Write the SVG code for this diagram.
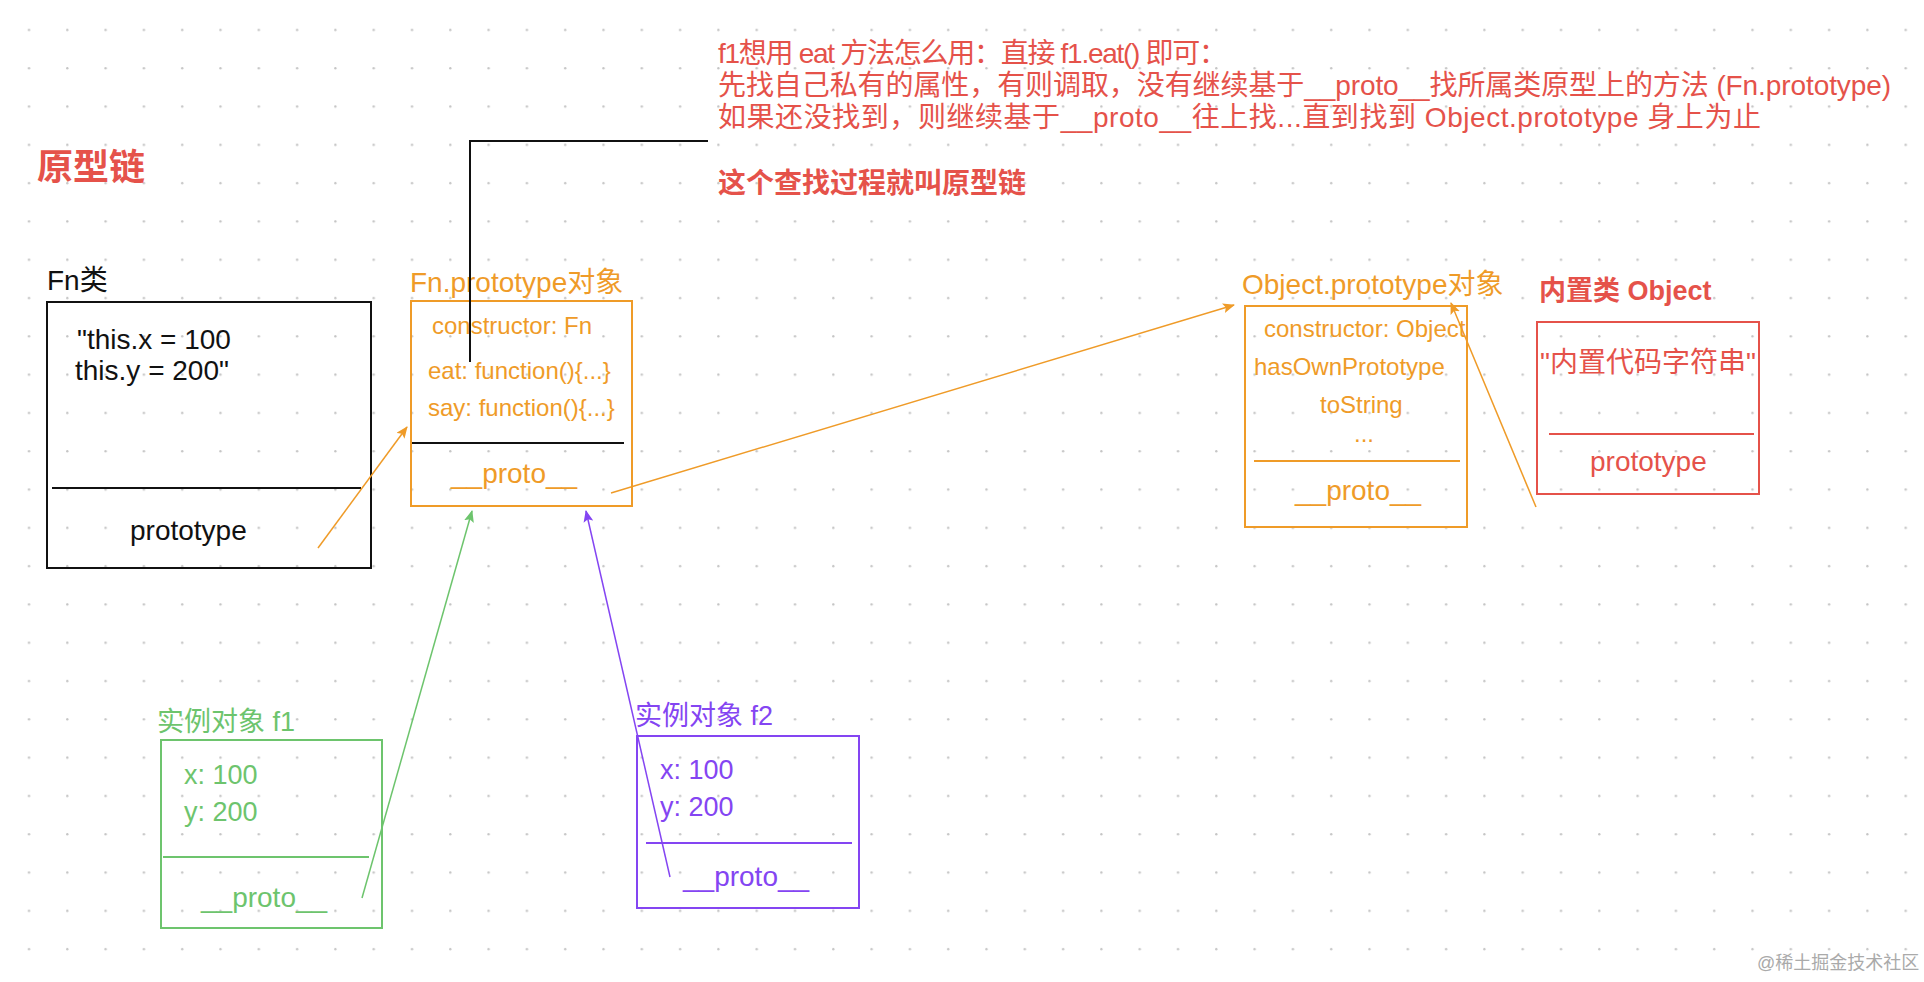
<svg xmlns="http://www.w3.org/2000/svg" width="1924" height="982" viewBox="0 0 1924 982">
<style>
text{font-family:"Liberation Sans","Noto Sans CJK SC",sans-serif;}
.t28{font-size:28px;}
.t27{font-size:27px;}
.t24{font-size:24px;}
.org{fill:#ef9b28;}
.red{fill:#e5524a;}
.grn{fill:#6dc46d;}
.pur{fill:#8445f2;}
.blk{fill:#111;}
.box{fill:none;stroke-width:2;}
.div{stroke-width:2;}
.con{fill:none;stroke-width:1.5;}
</style>
<defs>
<pattern id="dots" x="27.7" y="28.7" width="38.3" height="38.3" patternUnits="userSpaceOnUse">
<circle cx="1.3" cy="1.3" r="1.2" fill="#c4c4c4"/>
</pattern>
<marker id="aO" viewBox="0 0 12 10" refX="11" refY="5" markerWidth="12" markerHeight="10" markerUnits="userSpaceOnUse" orient="auto"><path d="M0,0 L12,5 L0,10 L2.5,5 z" fill="#ef9b28"/></marker>
<marker id="aG" viewBox="0 0 12 10" refX="11" refY="5" markerWidth="12" markerHeight="10" markerUnits="userSpaceOnUse" orient="auto"><path d="M0,0 L12,5 L0,10 L2.5,5 z" fill="#6dc46d"/></marker>
<marker id="aP" viewBox="0 0 12 10" refX="11" refY="5" markerWidth="12" markerHeight="10" markerUnits="userSpaceOnUse" orient="auto"><path d="M0,0 L12,5 L0,10 L2.5,5 z" fill="#8445f2"/></marker>
</defs>
<rect width="1924" height="982" fill="#fff"/>
<rect width="1924" height="982" fill="url(#dots)"/>

<g id="title">
<text x="37" y="180" class="red" style="font-size:36px;font-weight:bold">原型链</text>
</g>

<g id="note">
<text x="718" y="63" class="red t28" textLength="509" lengthAdjust="spacing">f1想用 eat 方法怎么用：直接 f1.eat() 即可：</text>
<text x="718" y="95" class="red t28" textLength="1173" lengthAdjust="spacing">先找自己私有的属性，有则调取，没有继续基于__proto__找所属类原型上的方法 (Fn.prototype)</text>
<text x="718" y="127" class="red t28" textLength="1043" lengthAdjust="spacing">如果还没找到，则继续基于__proto__往上找...直到找到 Object.prototype 身上为止</text>
<text x="718" y="193" class="red" style="font-size:28px;font-weight:bold">这个查找过程就叫原型链</text>
</g>

<g id="fn-class">
<text x="47" y="290" class="blk t28">Fn类</text>
<rect x="47" y="302" width="324" height="266" class="box" stroke="#111"/>
<text x="77" y="349" class="blk t28">"this.x = 100</text>
<text x="75" y="380" class="blk t28">this.y = 200"</text>
<line x1="52" y1="488" x2="361" y2="488" class="div" stroke="#111"/>
<text x="130" y="540" class="blk t28">prototype</text>
</g>

<g id="fn-prototype">
<text x="410" y="292" class="org t28">Fn.prototype对象</text>
<rect x="411" y="301" width="221" height="205" class="box" stroke="#ef9b28"/>
<text x="432" y="334" class="org t24">constructor: Fn</text>
<text x="428" y="379" class="org t24">eat: function(){...}</text>
<text x="428" y="416" class="org t24">say: function(){...}</text>
<line x1="412" y1="443" x2="624" y2="443" class="div" stroke="#111"/>
<text x="451" y="483" class="org t28">__proto__</text>
</g>

<g id="object-prototype">
<text x="1242" y="294" class="org t28">Object.prototype对象</text>
<rect x="1245" y="306" width="222" height="221" class="box" stroke="#ef9b28"/>
<text x="1264" y="337" class="org t24">constructor: Object</text>
<text x="1254" y="375" class="org t24">hasOwnPrototype</text>
<text x="1320" y="413" class="org t24">toString</text>
<text x="1354" y="442" class="org t24">...</text>
<line x1="1254" y1="461" x2="1460" y2="461" class="div" stroke="#ef9b28"/>
<text x="1295" y="500" class="org t28">__proto__</text>
</g>

<g id="object-class">
<text x="1539" y="300" class="red t27" style="font-weight:bold">内置类 Object</text>
<rect x="1537" y="322" width="222" height="172" class="box" stroke="#e5524a"/>
<text x="1540" y="372" class="red t28">"内置代码字符串"</text>
<line x1="1549" y1="434" x2="1754" y2="434" class="div" stroke="#e5524a"/>
<text x="1590" y="471" class="red t28">prototype</text>
</g>

<g id="f1">
<text x="157" y="731" class="grn t27">实例对象 f1</text>
<rect x="161" y="740" width="221" height="188" class="box" stroke="#6dc46d"/>
<text x="184" y="784" class="grn t27">x: 100</text>
<text x="184" y="821" class="grn t27">y: 200</text>
<line x1="163" y1="857" x2="369" y2="857" class="div" stroke="#6dc46d"/>
<text x="201" y="907" class="grn t28">__proto__</text>
</g>

<g id="f2">
<text x="635" y="725" class="pur t27">实例对象 f2</text>
<rect x="637" y="736" width="222" height="172" class="box" stroke="#8445f2"/>
<text x="660" y="779" class="pur t27">x: 100</text>
<text x="660" y="816" class="pur t27">y: 200</text>
<line x1="646" y1="843" x2="852" y2="843" class="div" stroke="#8445f2"/>
<text x="683" y="886" class="pur t28">__proto__</text>
</g>

<g id="connectors">
<polyline points="470,362 470,141 708,141" fill="none" stroke="#111" stroke-width="2"/>
<line x1="318" y1="548" x2="407" y2="427" class="con" stroke="#ef9b28" marker-end="url(#aO)"/>
<line x1="611" y1="493" x2="1234" y2="305" class="con" stroke="#ef9b28" marker-end="url(#aO)"/>
<line x1="1536" y1="507" x2="1451" y2="303" class="con" stroke="#ef9b28" marker-end="url(#aO)"/>
<line x1="362" y1="898" x2="472" y2="511" class="con" stroke="#6dc46d" marker-end="url(#aG)"/>
<line x1="670" y1="877" x2="586" y2="511" class="con" stroke="#8445f2" marker-end="url(#aP)"/>
</g>

<g id="watermark">
<text x="1757" y="969" style="font-size:18px" fill="#aaaaaa">@稀土掘金技术社区</text>
</g>
</svg>
